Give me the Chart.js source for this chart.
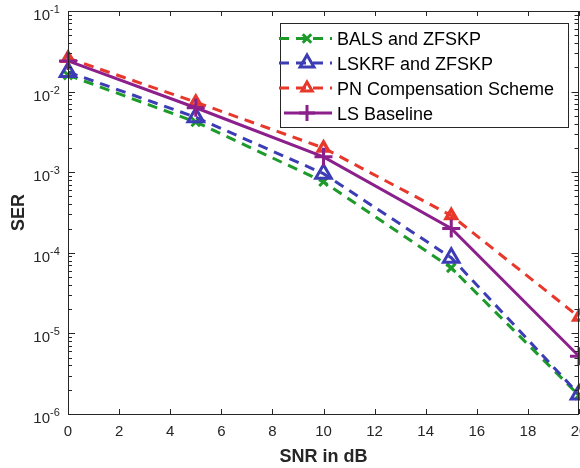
<!DOCTYPE html>
<html>
<head>
<meta charset="utf-8">
<script src="https://cdn.jsdelivr.net/npm/chart.js@4.4.0/dist/chart.umd.min.js"></script>
<style>
  html, body { margin: 0; padding: 0; background: #fff; }
  #wrap { width: 580px; height: 468px; }
</style>
</head>
<body>
<div id="wrap"><canvas id="myChart" width="580" height="468"></canvas></div>
<script>
// SNR points (dB) and SER per scheme
const snr = [0, 5, 10, 15, 20];
const balsSer = [1.6e-2, 4.2e-3, 7.6e-4, 6.5e-5, 1.7e-6];
const lskrfSer = [1.75e-2, 4.8e-3, 9.6e-4, 8.7e-5, 1.75e-6];
const pnSer = [2.6e-2, 7.4e-3, 2.0e-3, 2.9e-4, 1.6e-5];
const lsSer = [2.4e-2, 6.3e-3, 1.55e-3, 2.0e-4, 5.2e-6];

const xTicks = [0, 2, 4, 6, 8, 10, 12, 14, 16, 18, 20];
const yDecades = [-6, -5, -4, -3, -2, -1];

const FONT = '"Liberation Sans", Arial, Helvetica, sans-serif';
const AXIS = '#262626';

function pts(ys) {
  return snr.map((x, i) => ({ x: x, y: ys[i] }));
}

const series = [
  { label: 'BALS and ZFSKP', data: balsSer, color: '#1e9a2a', dash: [10, 7], style: 'crossRot', radius: 6, bw: 3, order: 3 },
  { label: 'LSKRF and ZFSKP', data: lskrfSer, color: '#3c3cb4', dash: [10, 7], style: 'triangle', radius: 9, bw: 3, order: 2 },
  { label: 'PN Compensation Scheme', data: pnSer, color: '#e8382c', dash: [10, 7], style: 'triangle', radius: 6, bw: 3.5, order: 1 },
  { label: 'LS Baseline', data: lsSer, color: '#8b1f8b', dash: [], style: 'cross', radius: 9, bw: 3, order: 0 }
];

// axes box, inward ticks, labels and legend drawn MATLAB-style
const matlabAxes = {
  id: 'matlabAxes',
  afterDraw(chart) {
    const ctx = chart.ctx;
    const a = chart.chartArea;
    const xs = chart.scales.x, ys = chart.scales.y;
    ctx.save();
    ctx.strokeStyle = AXIS;
    ctx.lineWidth = 1;
    ctx.setLineDash([]);
    ctx.strokeRect(Math.round(a.left) + 0.5, Math.round(a.top) + 0.5,
      Math.round(a.right - a.left) - 1, Math.round(a.bottom - a.top));

    // x ticks
    ctx.beginPath();
    xTicks.forEach(v => {
      const px = Math.round(xs.getPixelForValue(v)) + 0.5;
      ctx.moveTo(px, a.bottom); ctx.lineTo(px, a.bottom - 5);
      ctx.moveTo(px, a.top); ctx.lineTo(px, a.top + 5);
    });
    // y ticks (major + minor)
    const rx = Math.round(a.right) - 0.5;
    yDecades.forEach(d => {
      const py = Math.round(ys.getPixelForValue(Math.pow(10, d))) + 0.5;
      ctx.moveTo(a.left, py); ctx.lineTo(a.left + 7, py);
      ctx.moveTo(rx, py); ctx.lineTo(rx - 7, py);
      if (d < -1) {
        for (let m = 2; m <= 9; m++) {
          const pm = Math.round(ys.getPixelForValue(m * Math.pow(10, d))) + 0.5;
          ctx.moveTo(a.left, pm); ctx.lineTo(a.left + 4, pm);
          ctx.moveTo(rx, pm); ctx.lineTo(rx - 4, pm);
        }
      }
    });
    ctx.stroke();

    ctx.fillStyle = AXIS;
    // x tick labels
    ctx.font = '15px ' + FONT;
    ctx.textAlign = 'center';
    ctx.textBaseline = 'alphabetic';
    xTicks.forEach(v => {
      ctx.fillText(String(v), xs.getPixelForValue(v), a.bottom + 22);
    });
    // y tick labels 10^d
    yDecades.forEach(d => {
      const py = ys.getPixelForValue(Math.pow(10, d));
      ctx.font = '15px ' + FONT;
      ctx.textAlign = 'right';
      ctx.fillText('10', 50, py + 9);
      ctx.font = '11px ' + FONT;
      ctx.textAlign = 'left';
      ctx.fillText(String(d), 50, py + 2);
    });

    // axis titles
    ctx.font = 'bold 18px ' + FONT;
    ctx.textAlign = 'center';
    ctx.fillText('SNR in dB', (a.left + a.right) / 2, 462);
    ctx.save();
    ctx.translate(24, (a.top + a.bottom) / 2);
    ctx.rotate(-Math.PI / 2);
    ctx.fillText('SER', 0, 0);
    ctx.restore();

    // legend
    const lx = 280.5, ly = 23.5, lw = 288, lh = 104;
    ctx.fillStyle = '#fff';
    ctx.fillRect(lx, ly, lw, lh);
    ctx.strokeStyle = AXIS;
    ctx.lineWidth = 1;
    ctx.strokeRect(lx, ly, lw, lh);
    const rows = [38.5, 63, 88, 113];
    series.forEach((s, i) => {
      const y = rows[i];
      ctx.strokeStyle = s.color;
      ctx.lineWidth = 3;
      ctx.setLineDash(s.dash);
      ctx.beginPath();
      ctx.moveTo(s.dash.length ? 279 : 284, y);
      ctx.lineTo(332, y);
      ctx.stroke();
      ctx.setLineDash([]);
      ctx.fillStyle = 'rgba(0,0,0,0)';
      Chart.helpers.drawPoint(ctx, { pointStyle: s.style, radius: Math.min(s.radius, 8), borderWidth: s.bw, rotation: 0 }, 307, y);
      ctx.fillStyle = '#000';
      ctx.font = '18px ' + FONT;
      ctx.textAlign = 'left';
      ctx.fillText(s.label, 337, y + 6.5);
    });
    ctx.restore();
  }
};

const ctx = document.getElementById('myChart').getContext('2d');

const myChart = new Chart(ctx, {
  type: 'line',
  data: {
    datasets: series.map(s => ({
      label: s.label,
      data: pts(s.data),
      borderColor: s.color,
      backgroundColor: 'rgba(0,0,0,0)',
      pointBorderColor: s.color,
      pointBackgroundColor: 'rgba(0,0,0,0)',
      borderWidth: 3,
      borderDash: s.dash,
      pointStyle: s.style,
      pointRadius: s.radius,
      pointBorderWidth: s.bw,
      tension: 0,
      fill: false,
      clip: false,
      order: s.order
    }))
  },
  options: {
    responsive: false,
    animation: false,
    devicePixelRatio: 1,
    layout: { autoPadding: false, padding: { left: 68, right: 1, top: 11, bottom: 54 } },
    scales: {
      x: { type: 'linear', min: 0, max: 20, display: false },
      y: { type: 'logarithmic', min: 1e-6, max: 1e-1, display: false }
    },
    plugins: {
      legend: { display: false },
      tooltip: { enabled: false }
    }
  },
  plugins: [matlabAxes]
});
</script>
</body>
</html>
